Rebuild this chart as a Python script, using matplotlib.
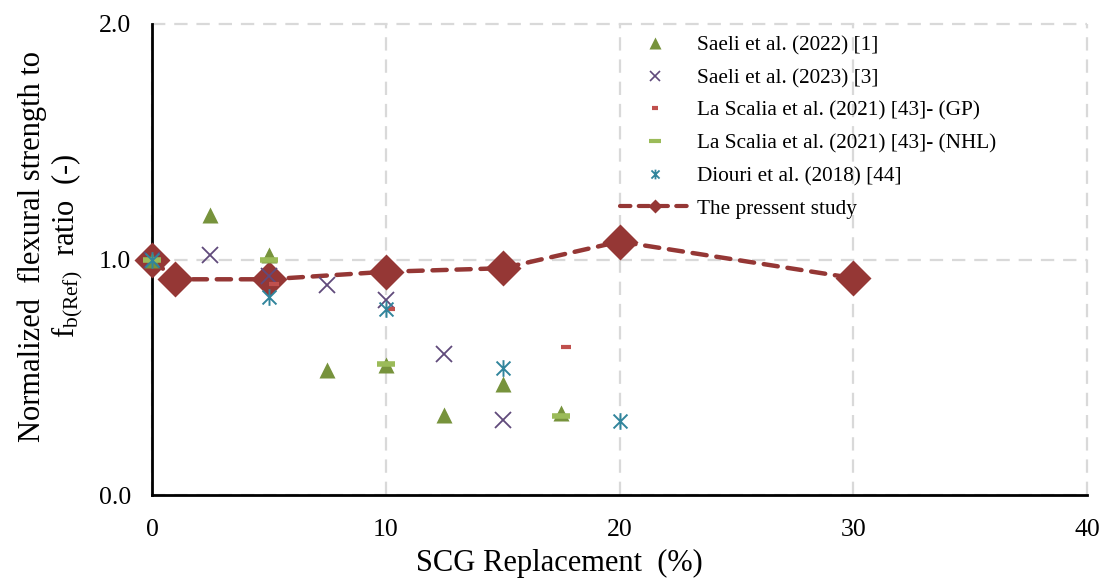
"""Normalized flexural strength vs SCG replacement, compared with literature."""

import matplotlib

matplotlib.use("Agg")
import matplotlib.pyplot as plt
from matplotlib.lines import Line2D
from matplotlib.path import Path

# ---- data ----
saeli22_x = [0, 2.5, 5, 7.5, 10, 12.5, 15, 17.5]
saeli22_y = [1.0, 1.19, 1.02, 0.53, 0.55, 0.34, 0.47, 0.35]

saeli23_x = [0, 2.5, 5, 7.5, 10, 12.5, 15]
saeli23_y = [1.0, 1.02, 0.93, 0.89, 0.83, 0.60, 0.32]

gp_x = [0, 5.2, 10.2, 17.7]
gp_y = [1.0, 0.895, 0.79, 0.63]

nhl_x = [0, 5, 10, 17.5]
nhl_y = [1.0, 1.0, 0.556, 0.337]

diouri_x = [0, 5, 10, 15, 20]
diouri_y = [1.0, 0.84, 0.79, 0.54, 0.315]

present_x = [0, 1, 5, 10, 15, 20, 30]
present_y = [1.0, 0.916, 0.916, 0.948, 0.963, 1.076, 0.921]

labels = [
    "Saeli et al. (2022) [1]",
    "Saeli et al. (2023) [3]",
    "La Scalia et al. (2021) [43]- (GP)",
    "La Scalia et al. (2021) [43]- (NHL)",
    "Diouri et al. (2018) [44]",
    "The pressent study",
]
x_ticks = [0, 10, 20, 30, 40]
y_ticks = [0.0, 1.0, 2.0]

# ---- style ----
C_SAELI22 = "#77933C"
C_SAELI23 = "#604A7B"
C_GP = "#C0504D"
C_NHL = "#9BBB59"
C_DIOURI = "#31859C"
C_PRESENT = "#953735"
C_GRID = "#D9D9D9"

plt.rcParams["font.family"] = ["Liberation Serif", "DejaVu Serif"]
plt.rcParams["mathtext.fontset"] = "custom"
plt.rcParams["mathtext.rm"] = "Liberation Serif"
plt.rcParams["mathtext.it"] = "Liberation Serif:italic"

# Excel-style "star": an x with a vertical bar through it
star = Path(
    [(-1, -1), (1, 1), (-1, 1), (1, -1), (0, -1.2), (0, 1.2)],
    [Path.MOVETO, Path.LINETO, Path.MOVETO, Path.LINETO, Path.MOVETO, Path.LINETO],
)

fig = plt.figure(figsize=(11.04, 5.81), dpi=100)
ax = fig.add_axes([152 / 1104, 1 - 495 / 581, 935 / 1104, 471 / 581])

ax.plot(present_x, present_y, color=C_PRESENT, lw=3.2, ls=(0, (3.2, 2.2)),
        dash_capstyle="round", marker="D", ms=18, mec="none", zorder=3,
        clip_on=False)
ax.plot(saeli22_x, saeli22_y, ls="none", marker="^", ms=12, color=C_SAELI22,
        mec="none", zorder=4, clip_on=False)
ax.plot(saeli23_x, saeli23_y, ls="none", marker="x", ms=11, mew=1.3,
        color=C_SAELI23, zorder=4, clip_on=False)
ax.plot(gp_x, gp_y, ls="none", marker="_", ms=7, mew=3, color=C_GP, zorder=4,
        clip_on=False)
ax.plot(nhl_x, nhl_y, ls="none", marker="_", ms=13, mew=4, color=C_NHL,
        zorder=5, clip_on=False)
ax.plot(diouri_x, diouri_y, ls="none", marker=star, ms=12, mew=1.4,
        color=C_DIOURI, zorder=6, clip_on=False)

ax.set_xlim(0, 40)
ax.set_ylim(0, 2)
ax.set_xticks(x_ticks)
ax.set_yticks(y_ticks)
ax.set_yticklabels([f"{v:.1f}" for v in y_ticks])
ax.tick_params(axis="x", length=0, pad=17, labelsize=18.5)
ax.tick_params(axis="y", length=0, pad=15, labelsize=18.5)

ax.grid(True, color=C_GRID, lw=1.6, ls=(0, (6, 4)))
for gl in ax.get_xgridlines() + ax.get_ygridlines():
    gl.set_clip_on(False)
ax.set_axisbelow(True)
for side in ("top", "right"):
    ax.spines[side].set_visible(False)
for side in ("left", "bottom"):
    ax.spines[side].set_linewidth(2)
    ax.spines[side].set_zorder(2)

ax.set_xlabel("SCG Replacement  (%)", fontsize=22, x=0.436, labelpad=6)
ax.set_ylabel("Normalized  flexural strength to\n"
              r"f$_{\mathrm{b(Ref)}}$  ratio  (-)",
              fontsize=22, y=0.528, labelpad=10, linespacing=1.1)

# legend uses smaller markers than the plot, like the original
handles = [
    Line2D([], [], ls="none", marker="^", ms=8, color=C_SAELI22, mec="none"),
    Line2D([], [], ls="none", marker="x", ms=7, mew=1.2, color=C_SAELI23),
    Line2D([], [], ls="none", marker="_", ms=5, mew=3, color=C_GP),
    Line2D([], [], ls="none", marker="_", ms=8, mew=3, color=C_NHL),
    Line2D([], [], ls="none", marker=star, ms=7, mew=1.3, color=C_DIOURI),
    Line2D([], [], color=C_PRESENT, lw=3, ls=(0, (2.5, 2)),
           dash_capstyle="round", marker="D", ms=7, mec="none"),
]
ax.legend(handles, labels, loc="upper left", bbox_to_anchor=(0.5, 0.975),
          frameon=False, fontsize=15.3, handlelength=3.3, handletextpad=0.35,
          labelspacing=0.6, borderpad=0, borderaxespad=0)

fig.savefig("out.png", dpi=100)
